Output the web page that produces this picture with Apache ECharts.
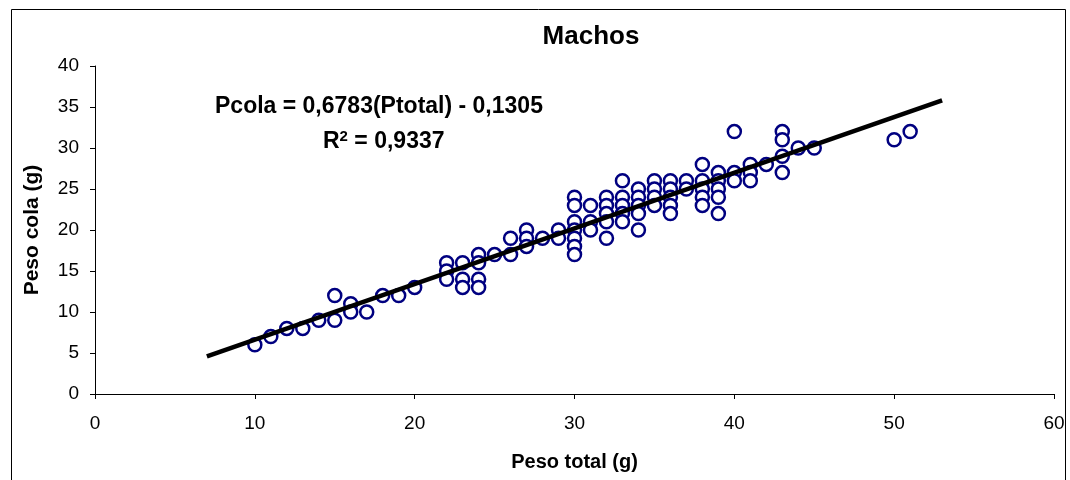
<!DOCTYPE html>
<html>
<head>
<meta charset="utf-8">
<script src="https://cdn.jsdelivr.net/npm/echarts@6/dist/echarts.min.js"></script>
<style>
  html, body { margin: 0; padding: 0; background: #fff; }
  #chart { width: 1070px; height: 480px; }
</style>
</head>
<body>
<div id="chart"></div>
<script>
// datos: peso total (x) y peso cola (y)
const pesoTotal = [
  10, 11, 12, 13, 14, 15, 15, 16, 16, 17, 18, 19, 20,
  22, 22, 22, 23, 23, 23, 24, 24, 24, 24, 25, 26, 26,
  27, 27, 27, 28, 29, 29,
  30, 30, 30, 30, 30, 30, 30, 31, 31, 31,
  32, 32, 32, 32, 32, 33, 33, 33, 33, 33,
  34, 34, 34, 34, 34, 35, 35, 35, 35,
  36, 36, 36, 36, 36, 37, 37,
  38, 38, 38, 38, 38, 39, 39, 39, 39, 39,
  40, 40, 40, 41, 41, 41, 42, 43, 43, 43, 43, 44, 45, 50, 51
];
const pesoCola = [
  6, 7, 8, 8, 9, 12, 9, 11, 10, 10, 12, 12, 13,
  16, 15, 14, 16, 14, 13, 17, 16, 14, 13, 17, 19, 17,
  20, 19, 18, 19, 20, 19,
  24, 23, 21, 20, 19, 18, 17, 23, 21, 20,
  24, 23, 22, 21, 19, 26, 24, 23, 22, 21,
  25, 24, 23, 22, 20, 26, 25, 24, 23,
  26, 25, 24, 23, 22, 26, 25,
  28, 26, 25, 24, 23, 27, 26, 25, 24, 22,
  32, 27, 26, 28, 27, 26, 28, 32, 31, 29, 27, 30, 30, 31, 32
];
// recta de regresión (extremos)
const trendX = [7, 53];
const trendY = [4.6, 35.8];

const xTicks = [0, 10, 20, 30, 40, 50, 60];
const yTicks = [0, 5, 10, 15, 20, 25, 30, 35, 40];

const font = "Arial, 'Liberation Sans', sans-serif";

const chart = echarts.init(document.getElementById("chart"));
chart.setOption({
  backgroundColor: "#fff",
  animation: false,
  title: {
    text: "Machos",
    left: 586,
    top: 19,
    textAlign: "center",
    textStyle: { fontFamily: font, fontSize: 26, fontWeight: "bold", color: "#000" }
  },
  grid: { left: 95, right: 16, top: 66, bottom: 86 },
  xAxis: {
    type: "value",
    min: xTicks[0],
    max: xTicks[xTicks.length - 1],
    interval: 10,
    name: "Peso total (g)",
    nameLocation: "middle",
    nameGap: 58,
    nameTextStyle: { fontFamily: font, fontSize: 20, fontWeight: "bold", color: "#000" },
    axisLine: { lineStyle: { color: "#000", width: 1 } },
    axisTick: { length: 5, lineStyle: { color: "#000" } },
    axisLabel: { fontFamily: font, fontSize: 19, color: "#000", margin: 20 },
    splitLine: { show: false }
  },
  yAxis: {
    type: "value",
    min: yTicks[0],
    max: yTicks[yTicks.length - 1],
    interval: 5,
    name: "Peso cola (g)",
    nameLocation: "middle",
    nameGap: 52,
    nameTextStyle: { fontFamily: font, fontSize: 21, fontWeight: "bold", color: "#000" },
    axisLine: { show: true, lineStyle: { color: "#000", width: 1 } },
    axisTick: { show: true, length: 5, lineStyle: { color: "#000" } },
    axisLabel: { fontFamily: font, fontSize: 19, color: "#000", margin: 16 },
    splitLine: { show: false }
  },
  graphic: [
    {
      type: "rect",
      left: 9, top: 7,
      shape: { width: 1054, height: 480 },
      style: { fill: "none", stroke: "#000", lineWidth: 1 },
      silent: true
    },
    {
      type: "text",
      left: 215, top: 95,
      style: {
        text: "Pcola = 0,6783(Ptotal) - 0,1305",
        font: "bold 23px " + font,
        fill: "#000"
      }
    },
    {
      type: "text",
      left: 323, top: 129,
      style: {
        text: "R{sup|2} = 0,9337",
        font: "bold 23px " + font,
        fill: "#000",
        rich: {
          sup: { font: "bold 15px " + font, fill: "#000", verticalAlign: "top", padding: [0, 0, 10, 0] }
        }
      }
    }
  ],
  series: [
    {
      type: "line",
      data: trendX.map((x, i) => [x, trendY[i]]),
      symbol: "none",
      lineStyle: { color: "#000", width: 4.5 },
      z: 3
    },
    {
      type: "scatter",
      data: pesoTotal.map((x, i) => [x, pesoCola[i]]),
      symbol: "circle",
      symbolSize: 13,
      itemStyle: { color: "#fff", borderColor: "#000080", borderWidth: 2.5, opacity: 1 },
      z: 2
    }
  ]
});
</script>
</body>
</html>
